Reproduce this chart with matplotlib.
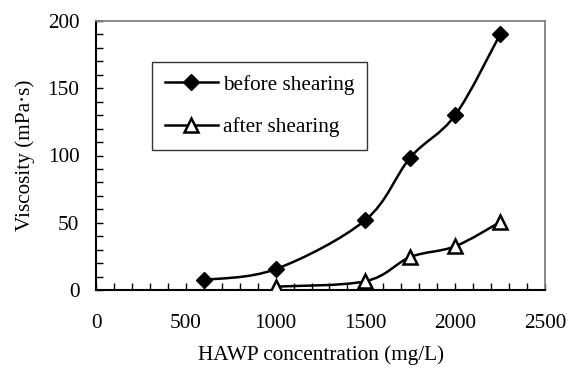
import matplotlib
matplotlib.use("Agg")
import matplotlib.pyplot as plt
from matplotlib.path import Path
from matplotlib.patches import PathPatch
from matplotlib.ticker import MultipleLocator
from matplotlib.lines import Line2D
import numpy as np

plt.rcParams['font.family'] = ['Liberation Serif', 'DejaVu Serif']

conc_before = [600, 1000, 1500, 1750, 2000, 2250]
visc_before = [7.5, 15.5, 52, 98.5, 130, 190]
conc_after = [1000, 1500, 1750, 2000, 2250]
visc_after = [2.5, 6.5, 24.5, 32.5, 50.5]

x_ticks = [0, 500, 1000, 1500, 2000, 2500]
y_ticks = [0, 50, 100, 150, 200]

FS = 15.3


def smooth_path(xs, ys):
    pts = np.column_stack([xs, ys]).astype(float)
    n = len(pts)
    verts = [pts[0]]
    codes = [Path.MOVETO]
    for i in range(n - 1):
        p0 = pts[i - 1] if i > 0 else pts[i]
        p1 = pts[i]
        p2 = pts[i + 1]
        p3 = pts[i + 2] if i + 2 < n else pts[i + 1]
        c1 = p1 + (p2 - p0) / 6.0
        c2 = p2 - (p3 - p1) / 6.0
        verts += [c1, c2, p2]
        codes += [Path.CURVE4] * 3
    return Path(verts, codes)


fig = plt.figure(figsize=(5.76, 3.72), dpi=100)
ax = fig.add_axes([96 / 576, 1 - 290 / 372, (545 - 96) / 576, (290 - 21) / 372])

ax.add_patch(PathPatch(smooth_path(conc_before, visc_before), fill=False,
                       lw=1.8, color='black', zorder=2))
ax.add_patch(PathPatch(smooth_path(conc_after, visc_after), fill=False,
                       lw=1.8, color='black', zorder=2))
ax.plot(conc_before, visc_before, ls='none', marker='D', ms=8,
        mfc='black', mec='black', zorder=3)
ax.plot(conc_after, visc_after, ls='none', marker='^', ms=10,
        mfc='white', mec='black', mew=1.8, zorder=3)

ax.set_xlim(0, 2500)
ax.set_ylim(0, 200)
ax.set_xticks(x_ticks)
ax.set_yticks(y_ticks)
ax.xaxis.set_minor_locator(MultipleLocator(100))
ax.yaxis.set_minor_locator(MultipleLocator(10))
ax.tick_params(which='both', direction='in', length=5, width=1, color='black')
ax.tick_params(which='major', labelsize=FS)
ax.tick_params(axis='x', which='major', pad=17)
ax.tick_params(axis='y', which='major', pad=12)
ax.tick_params(which='both', top=False, right=False)

for side in ['left', 'bottom']:
    ax.spines[side].set_color('black')
    ax.spines[side].set_linewidth(1.5)
for side in ['top', 'right']:
    ax.spines[side].set_color('#808080')
    ax.spines[side].set_linewidth(1.3)

ax.set_xlabel('HAWP concentration (mg/L)', fontsize=FS, labelpad=9)
ax.set_ylabel('Viscosity (mPa·s)', fontsize=FS, labelpad=9)

handles = [
    Line2D([], [], color='black', lw=1.8, marker='D', ms=8, mfc='black'),
    Line2D([], [], color='black', lw=1.8, marker='^', ms=10, mfc='white', mew=1.8),
]
leg = ax.legend(handles, ['before shearing', 'after shearing'],
                loc='upper left', bbox_to_anchor=((152 - 96) / 449, (290 - 62) / 269),
                fontsize=FS, frameon=True, fancybox=False, edgecolor='black',
                handlelength=2.5, handletextpad=0.25, labelspacing=1.06,
                borderpad=0.6, borderaxespad=0)
leg.get_frame().set_linewidth(1.0)

fig.savefig('out.png', dpi=100)
